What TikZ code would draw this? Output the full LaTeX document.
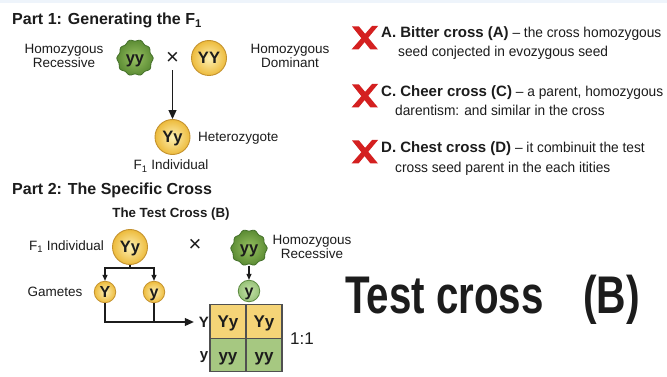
\documentclass[tikz,border=0pt]{standalone}
\usepackage{fontspec}
\usepackage{graphicx}
\setmainfont{Liberation Sans}
\newfontfamily\optreg{Liberation Sans}[FakeStretch=0.96]
\usetikzlibrary{arrows.meta}

\definecolor{topband}{HTML}{EEF4FB}
\definecolor{ballin}{HTML}{FDF0B4}
\definecolor{ballout}{HTML}{EDBB3C}
\definecolor{balledge}{HTML}{C4922E}
\definecolor{blobin}{HTML}{98C262}
\definecolor{blobout}{HTML}{5C8C34}
\definecolor{blobedge}{HTML}{44702A}
\definecolor{gamin}{HTML}{C4E2A8}
\definecolor{gamout}{HTML}{98C279}
\definecolor{gamedge}{HTML}{5C8A40}
\definecolor{celly}{HTML}{F5D477}
\definecolor{cellg}{HTML}{A6C881}
\definecolor{gridline}{HTML}{505050}
\definecolor{xred}{HTML}{D42020}
\definecolor{ink}{HTML}{1C1C1C}

\newcommand{\fsz}[2]{\fontsize{#1}{#2}\selectfont}

\tikzset{
  every node/.style={text=ink},
  label13/.style={font=\fsz{13.5}{14}, inner sep=0pt, align=center},
  heading/.style={font=\bfseries\fsz{16}{18}, inner sep=0pt, anchor=base west},
  crosssign/.style={inner sep=0pt, font=\fsz{22}{22}},
  ball/.style={circle, minimum size=35pt, inner sep=0pt, draw=balledge, line width=0.9pt,
    inner color=ballin, outer color=ballout, font=\bfseries\fsz{16.5}{18},
    text height=11.8pt, text depth=0pt},
  blobtext/.style={circle, minimum size=35pt, inner sep=0pt, text=ink,
    font=\bfseries\fsz{16.5}{18}, text height=11.8pt, text depth=0pt},
  gamete/.style={circle, minimum size=21.5pt, inner sep=0pt, draw=balledge, line width=0.8pt,
    inner color=ballin, outer color=ballout, font=\bfseries\fsz{16}{16},
    text height=11.4pt, text depth=0pt},
  greengamete/.style={gamete, draw=gamedge, inner color=gamin, outer color=gamout},
  cell/.style={rectangle, minimum width=36pt, minimum height=33.5pt, inner sep=0pt,
    draw=gridline, line width=1.1pt, font=\bfseries\fsz{17}{18},
    text height=12.2pt, text depth=0pt},
  rowlabel/.style={inner sep=0pt, font=\bfseries\fsz{15}{16}, text height=10.8pt, text depth=0pt},
  conn/.style={draw=ink, line width=1.1pt},
  tipbig/.style={-{Triangle[length=9pt,width=8pt]}},
  tipsmall/.style={-{Triangle[length=6pt,width=5pt]}},
  opttext/.style={inner sep=0pt, anchor=base west, font=\optreg\fsz{14.3}{17}},
  bigtext/.style={inner sep=0pt, font=\bfseries\fsz{53}{60}},
  pics/blob/.style={code={
    \path[draw=blobedge, line width=0.8pt, inner color=blobin, outer color=blobout]
      plot[smooth cycle, variable=\t, samples=60, domain=0:354]
      ({(17.3+0.9*cos(10*\t)+0.5*sin(3*\t))*cos(\t)},
       {(17.3+0.9*cos(10*\t)+0.5*sin(3*\t))*sin(\t)});
  }},
  pics/nomark/.style={code={
    \fill[xred] (-13,-11.5) -- (-6,-11.5) -- (13,11.5) -- (5.5,11.5) -- cycle;
    \fill[xred] (13,-12) -- (7,-12) -- (-13.5,11.5) -- (-6.5,11.5) -- cycle;
  }},
}
\newcommand{\optlead}[1]{{\normalfont\bfseries\fsz{15}{17}#1}}

\begin{document}
\begin{tikzpicture}[x=1pt,y=-1pt]
\useasboundingbox (0,0) rectangle (667,377);
\fill[white] (0,0) rectangle (667,377);
\fill[topband] (0,0) rectangle (667,3);

% ---------- Part 1 ----------
\node[heading] (h1) at (12,25) {Part 1: Generating the F\textsubscript{1}};

\node[label13] (lrec) at (64,55.5) {Homozygous\\Recessive};
\pic at (135,58) {blob};
\node[blobtext] (p1rec) at (135,58) {yy};
\node[crosssign] (x1) at (172.5,58) {×};
\node[ball] (p1dom) at (209,58) {YY};
\node[label13] (ldom) at (290,55.5) {Homozygous\\Dominant};

\node[ball] (f1) at (172.5,137) {Yy};
\node[label13, anchor=base west] (lhet) at (198,142) {Heterozygote};
\node[label13, anchor=base] (lf1) at (171,170) {F\textsubscript{1} Individual};

\draw[conn, tipbig, shorten <=6pt] (x1.south) -- (f1.north);

% ---------- Part 2 ----------
\node[heading] (h2) at (12,195) {Part 2: The Specific Cross};
\node[inner sep=0pt, anchor=base, font=\bfseries\fsz{13.3}{15}] (htc) at (171,218) {The Test Cross (B)};

\node[label13, anchor=base east] (lf1b) at (104,250) {F\textsubscript{1} Individual};
\node[ball] (f1b) at (130,247) {Yy};
\node[crosssign] (x2) at (195,245) {×};
\pic at (249,248) {blob};
\node[blobtext] (rec2) at (249,248) {yy};
\node[label13] (lrec2) at (312,247) {Homozygous\\Recessive};

\node[label13, anchor=base] (lgam) at (55,296) {Gametes};
\node[gamete] (gY) at (105,292) {Y};
\node[gamete] (gy) at (154,292) {y};
\node[greengamete] (gg) at (249,291) {y};

\coordinate (split) at (130,268);
\draw[conn] (f1b.south) -- (split);
\draw[conn, tipsmall] (split) -| (gY.north);
\draw[conn, tipsmall] (split) -| (gy.north);
\draw[conn, tipsmall] (rec2.south) -- (gg.north);

% Punnett square
\node[cell, fill=celly] (c11) at (228,321.5) {Yy};
\node[cell, fill=celly] (c12) at (264,321.5) {Yy};
\node[cell, fill=cellg] (c21) at (228,355) {yy};
\node[cell, fill=cellg] (c22) at (264,355) {yy};
\node[rowlabel] (rY) at (204,322) {Y};
\node[rowlabel] (ry) at (204,354) {y};
\node[inner sep=0pt, font=\fsz{17}{18}] (ratio) at (302,339) {1:1};

\draw[conn, tipbig, shorten >=5pt] (gY.south) |- (rY.west);
\draw[conn] (gy.south) -- (gy.south |- rY.west);

% ---------- Answer options ----------
\pic at (365,38) {nomark};
\node[opttext] (a1) at (381,38) {\optlead{A. Bitter cross (A)} – the cross homozygous};
\node[opttext] (a2) at (398,57) {seed conjected in evozygous seed};

\pic at (365,96) {nomark};
\node[opttext] (c1) at (381,97) {\optlead{C. Cheer cross (C)} – a parent, homozygous};
\node[opttext] (c2) at (395,116) {darentism: and similar in the cross};

\pic at (365,152) {nomark};
\node[opttext] (d1) at (381,153) {\optlead{D. Chest cross (D)} – it combinuit the test};
\node[opttext] (d2) at (395,172) {cross seed parent in the each itities};

% ---------- Result ----------
\node[bigtext, anchor=base west] (res) at (345,313) {\scalebox{0.76}[1]{Test cross}};
\node[bigtext, anchor=base east] (resb) at (640,313) {\scalebox{0.77}[1]{(B)}};
\end{tikzpicture}
\end{document}
